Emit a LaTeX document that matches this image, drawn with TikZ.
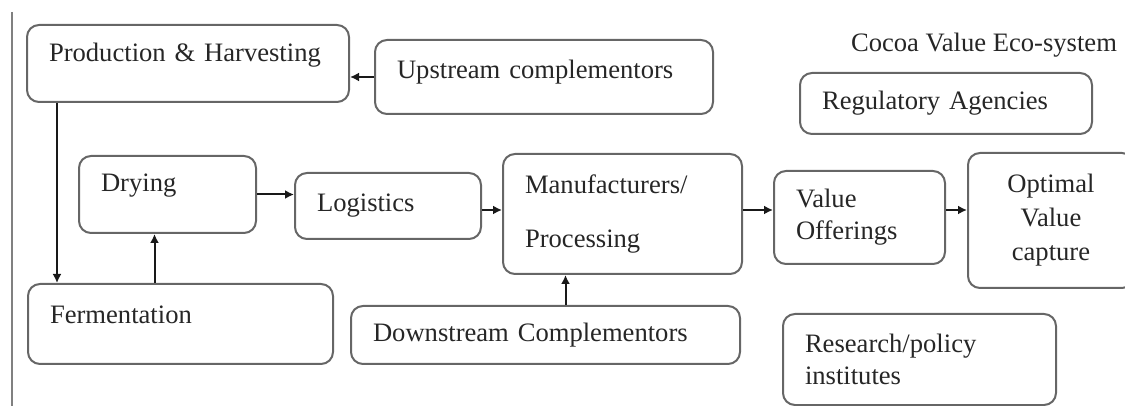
\documentclass[tikz,border=0pt]{standalone}
\usepackage{fontspec}
\setmainfont{Liberation Serif}
\usetikzlibrary{arrows.meta,positioning}
\begin{document}
\begin{tikzpicture}[
  font=\rmfamily\fontsize{13.3}{16}\selectfont,
  box/.style={draw=black!60,line width=1pt,rounded corners=6pt,align=left,inner xsep=11pt,inner ysep=0pt,text=black!85},
  raised/.style={text depth=#1},
  arr/.style={-{Latex[length=4.5pt,width=4.5pt]},line width=1pt,black!90}]
  \useasboundingbox (0,0) rectangle (562.5pt,-203pt);
  \draw[black!50,line width=1pt] (6pt,-6pt) -- (6pt,-203pt);
  \node[text=black!85] (title) at (492pt,-22.5pt) {Cocoa Value Eco-system};
  \node[box,raised=11pt,anchor=north west,text width=139pt,minimum height=38.5pt] (prod) at (13pt,-12pt) {Production \& Harvesting};
  \node[box,raised=7.5pt,right=12pt of prod,yshift=-6.75pt,text width=147pt,minimum height=37pt] (up) {Upstream complementors};
  \node[box,text width=124pt,minimum height=30.5pt] (reg) at (473pt,-51.75pt) {Regulatory Agencies};
  \node[box,raised=11.5pt,anchor=north west,text width=66.5pt,minimum height=38.5pt] (dry) at (39pt,-77.5pt) {Drying};
  \node[box,right=18.5pt of dry,yshift=-5.75pt,text width=71pt,minimum height=33pt] (log) {Logistics};
  \node[box,right=10pt of log,yshift=-4pt,text width=97.5pt,minimum height=60pt] (man) {Manufacturers/\\[11pt]Processing};
  \node[box,right=15pt of man,yshift=-1.75pt,text width=63.5pt,minimum height=46.5pt] (val) {Value\\Offerings};
  \node[box,right=10.5pt of val,yshift=-1.5pt,text width=61pt,minimum height=67.5pt,align=center] (opt) {Optimal\\[1pt]Value\\[1pt]capture};
  \node[box,raised=9.5pt,anchor=north west,text width=130.5pt,minimum height=40pt] (fer) at (13.5pt,-141.5pt) {Fermentation};
  \node[box,right=8pt of fer,yshift=-5.5pt,text width=172.5pt,minimum height=29pt] (down) {Downstream Complementors};
  \node[box,anchor=north west,text width=114.5pt,minimum height=45.5pt] (res) at (391pt,-156.5pt) {Research/policy\\institutes};
  \coordinate (row) at (0,-105pt);
  \draw[arr] (up.west) -- (up.west -| prod.east);
  \draw[arr] ([xshift=15.5pt]prod.south west) -- ([xshift=15.5pt]prod.south west |- fer.north);
  \draw[arr] ([xshift=-6.5pt]dry.south |- fer.north) -- ([xshift=-6.5pt]dry.south);
  \draw[arr] (dry.east) -- (dry.east -| log.west);
  \draw[arr] (log.east |- row) -- (man.west |- row);
  \draw[arr] (man.east |- row) -- (val.west |- row);
  \draw[arr] (val.east |- row) -- (opt.west |- row);
  \draw[arr] ([xshift=10pt]down.north) -- ([xshift=10pt]down.north |- man.south);
\end{tikzpicture}
\end{document}
